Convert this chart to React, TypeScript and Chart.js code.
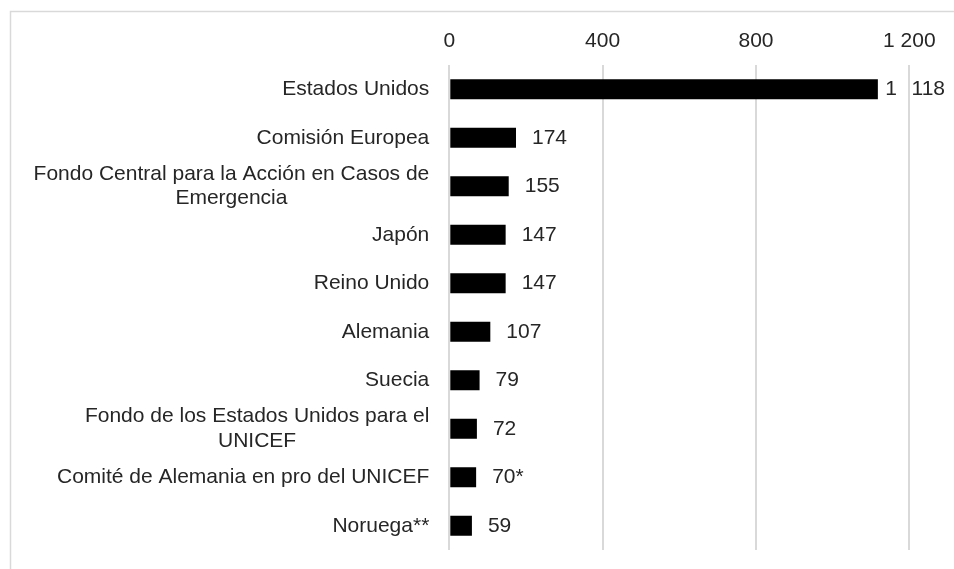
import React, { useEffect, useRef } from "react";
import { Chart, registerables } from "chart.js";

Chart.register(...registerables);

// ---- data ----
const categories: string[][] = [
  ["Estados Unidos"],
  ["Comisión Europea"],
  ["Fondo Central para la Acción en Casos de", "Emergencia"],
  ["Japón"],
  ["Reino Unido"],
  ["Alemania"],
  ["Suecia"],
  ["Fondo de los Estados Unidos para el", "UNICEF"],
  ["Comité de Alemania en pro del UNICEF"],
  ["Noruega**"],
];
const values: number[] = [1118, 174, 155, 147, 147, 107, 79, 72, 70, 59];
const valueSuffixes: string[] = ["", "", "", "", "", "", "", "", "*", ""];
const xMin = 0;
const xMax = 1200;
const xStep = 400;

// ---- style ----
const FONT = '"Liberation Sans", Arial, Helvetica, sans-serif';
const FONT_SIZE = 21;
const TEXT = "#262626";
const GRID = "#d9d9d9";
const LINE_H = 24.5;

const fmt = (v: number, sep = " ") =>
  String(v).replace(/\B(?=(\d{3})+(?!\d))/g, sep);

const customPlugin = {
  id: "customLabels",
  beforeDraw(chart: any) {
    const ctx = chart.ctx;
    ctx.save();
    ctx.strokeStyle = GRID;
    ctx.lineWidth = 1.5;
    ctx.beginPath();
    ctx.moveTo(10.5, chart.height + 5);
    ctx.lineTo(10.5, 11.5);
    ctx.lineTo(chart.width + 5, 11.5);
    ctx.stroke();
    ctx.restore();
  },
  afterDatasetsDraw(chart: any) {
    const ctx = chart.ctx;
    const yScale = chart.scales.y;
    const meta = chart.getDatasetMeta(0);
    ctx.save();
    ctx.font = `${FONT_SIZE}px ${FONT}`;
    ctx.fillStyle = TEXT;
    ctx.textBaseline = "middle";
    const right = chart.chartArea.left - 20;
    categories.forEach((lines, i) => {
      const y = yScale.getPixelForValue(i);
      const widest = Math.max(...lines.map((l) => ctx.measureText(l).width));
      const cx = right - widest / 2;
      ctx.textAlign = "center";
      lines.forEach((l, j) => {
        ctx.fillText(l, cx, y + (j - (lines.length - 1) / 2) * LINE_H);
      });
    });
    ctx.textAlign = "left";
    meta.data.forEach((bar: any, i: number) => {
      const text = fmt(values[i], "\u2002\u2009") + valueSuffixes[i];
      const w = ctx.measureText(text).width;
      const x = Math.min(bar.x + 16, chart.width - w - 9);
      ctx.fillText(text, x, bar.y);
    });
    ctx.restore();
  },
};

export default function App() {
  const canvasRef = useRef<HTMLCanvasElement | null>(null);

  useEffect(() => {
    if (!canvasRef.current) return;
    const chart = new Chart(canvasRef.current, {
      type: "bar",
      data: {
        labels: categories.map((c) => c.join(" ")),
        datasets: [
          {
            data: values,
            backgroundColor: "#000000",
            borderWidth: 0,
            barPercentage: 0.41,
            categoryPercentage: 1,
          },
        ],
      },
      options: {
        indexAxis: "y",
        animation: false,
        responsive: true,
        maintainAspectRatio: false,
        layout: { padding: { left: 0, right: 44.7, top: 0, bottom: 19 } },
        plugins: {
          legend: { display: false },
          tooltip: { enabled: false },
        },
        scales: {
          x: {
            type: "linear",
            position: "top",
            min: xMin,
            max: xMax,
            ticks: {
              stepSize: xStep,
              callback: (v: any) => fmt(Number(v)),
              font: { family: FONT, size: FONT_SIZE },
              color: TEXT,
              padding: 11,
              maxRotation: 0,
            },
            grid: { color: GRID, lineWidth: 2, drawTicks: false },
            border: { display: false },
            afterFit: (s: any) => {
              s.height = 65;
            },
          },
          y: {
            type: "category",
            ticks: { display: false },
            grid: { display: false },
            border: { display: false },
            afterFit: (s: any) => {
              s.width = 449.3;
            },
          },
        },
      },
      plugins: [customPlugin],
    });
    return () => chart.destroy();
  }, []);

  return (
    <div
      style={{
        position: "fixed",
        left: 0,
        top: 0,
        width: "954px",
        height: "569px",
        background: "#ffffff",
      }}
    >
      <canvas ref={canvasRef} />
    </div>
  );
}
